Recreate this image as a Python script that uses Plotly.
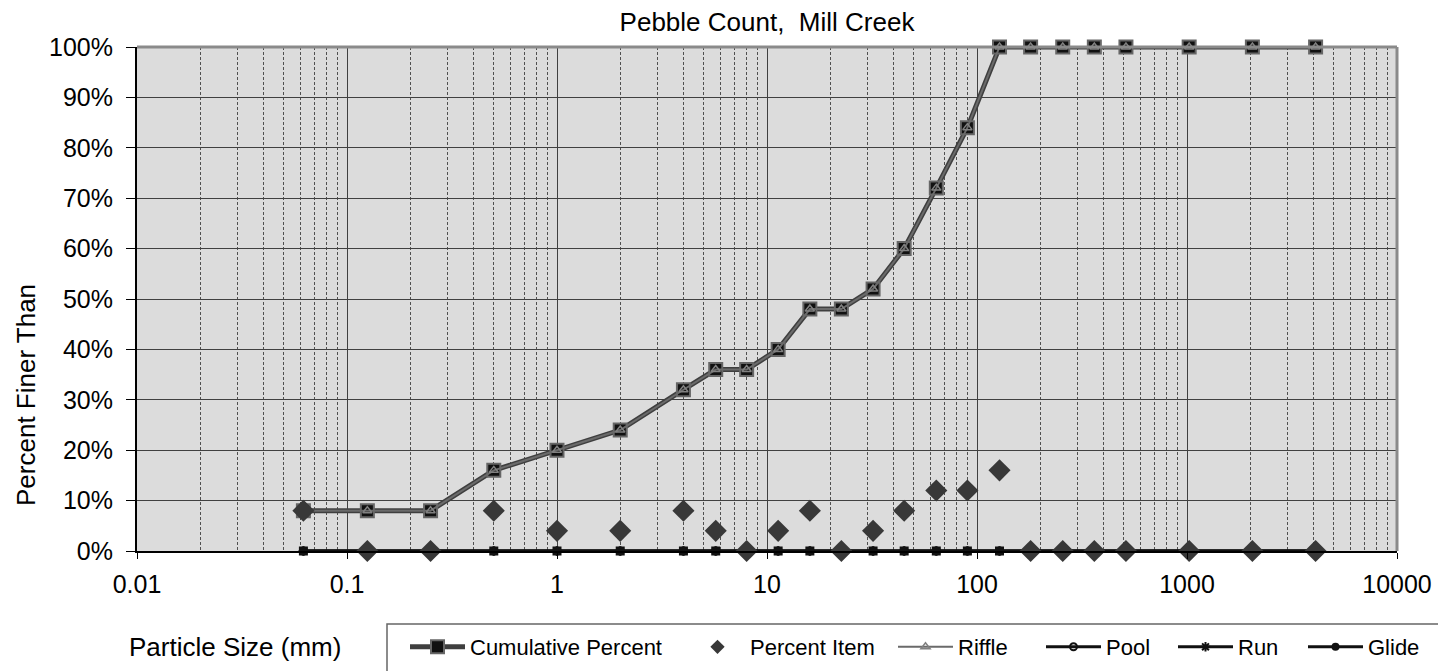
import plotly.graph_objects as go

# ---- data ----
particle_size_mm = [0.062, 0.125, 0.25, 0.5, 1, 2, 4, 5.7, 8, 11.3, 16, 22.6, 32, 45,
                    64, 90, 128, 180, 256, 362, 512, 1024, 2048, 4096]
cumulative_percent = [8, 8, 8, 16, 20, 24, 32, 36, 36, 40, 48, 48, 52, 60,
                      72, 84, 100, 100, 100, 100, 100, 100, 100, 100]
percent_item = [8, 0, 0, 8, 4, 4, 8, 4, 0, 4, 8, 0, 4, 8,
                12, 12, 16, 0, 0, 0, 0, 0, 0, 0]
riffle = cumulative_percent
pool = [0] * len(particle_size_mm)
run = [0] * len(particle_size_mm)
glide = [0] * len(particle_size_mm)

x_tick_vals = [0.01, 0.1, 1, 10, 100, 1000, 10000]
x_tick_text = ["0.01", "0.1", "1", "10", "100", "1000", "10000"]
y_tick_vals = [0, 10, 20, 30, 40, 50, 60, 70, 80, 90, 100]
y_tick_text = ["0%", "10%", "20%", "30%", "40%", "50%", "60%", "70%", "80%", "90%", "100%"]

FONT = "Liberation Sans, Arial, sans-serif"
W, H = 1438, 671
L, R, T, B = 137, 41, 47, 120
PW, PH = W - L - R, H - T - B


def px_x(p):
    return (p - L) / PW


def px_y(p):
    return (H - B - p) / PH


minor_vals = [m * 10 ** e for e in range(-2, 4) for m in range(2, 10)]

fig = go.Figure()

fig.add_trace(go.Scatter(x=particle_size_mm, y=pool, name="Pool", mode="lines+markers",
                         line=dict(color="#111111", width=3),
                         marker=dict(symbol="circle-open", size=7, color="#111111", line=dict(width=2)),
                         cliponaxis=False, legend="legend4"))
fig.add_trace(go.Scatter(x=particle_size_mm, y=run, name="Run", mode="lines+markers",
                         line=dict(color="#111111", width=3),
                         marker=dict(symbol="asterisk-open", size=8, color="#111111", line=dict(width=2, color="#111111")),
                         cliponaxis=False, legend="legend5"))
fig.add_trace(go.Scatter(x=particle_size_mm, y=glide, name="Glide", mode="lines+markers",
                         line=dict(color="#111111", width=3),
                         marker=dict(symbol="square", size=9, color="#111111"),
                         cliponaxis=False, legend="legend6", showlegend=False))
fig.add_trace(go.Scatter(x=[None], y=[None], name="Glide", mode="lines+markers",
                         line=dict(color="#111111", width=3),
                         marker=dict(symbol="circle", size=8, color="#111111"),
                         legend="legend6"))
fig.add_trace(go.Scatter(x=particle_size_mm, y=cumulative_percent, name="Cumulative Percent",
                         mode="lines+markers",
                         line=dict(color="#3f3f3f", width=5),
                         marker=dict(symbol="square", size=13, color="#111111", line=dict(color="#666666", width=2)),
                         cliponaxis=False, legend="legend"))
fig.add_trace(go.Scatter(x=particle_size_mm, y=riffle, name="Riffle", mode="lines+markers",
                         line=dict(color="#6a6a6a", width=2),
                         marker=dict(symbol="triangle-up-open", size=8, color="#808080", line=dict(width=1.5)),
                         cliponaxis=False, legend="legend3"))
fig.add_trace(go.Scatter(x=particle_size_mm, y=percent_item, name="Percent Item", mode="markers",
                         marker=dict(symbol="diamond", size=17, color="#383838"),
                         cliponaxis=False, legend="legend2", showlegend=False))
fig.add_trace(go.Scatter(x=[None], y=[None], name="Percent Item", mode="markers",
                         marker=dict(symbol="diamond", size=11, color="#383838"),
                         legend="legend2"))

legend_font = dict(family=FONT, size=22, color="black")
legend_y = px_y(647)


def leg(origin_px):
    return dict(x=px_x(origin_px), y=legend_y, xanchor="left", yanchor="middle",
                orientation="h", bgcolor="rgba(0,0,0,0)", borderwidth=0,
                font=legend_font, itemwidth=55, itemclick=False, itemdoubleclick=False)


fig.update_layout(
    width=W, height=H,
    margin=dict(l=L, r=R, t=T, b=B, autoexpand=False),
    paper_bgcolor="white",
    plot_bgcolor="#dcdcdc",
    font=dict(family=FONT, size=25, color="black"),
    title=dict(text="Pebble Count,  Mill Creek", x=0.5, xref="paper", y=1 - 22 / H,
               yanchor="middle", xanchor="center", font=dict(family=FONT, size=26, color="black")),
    legend=leg(405),
    legend2=leg(685),
    legend3=leg(893),
    legend4=leg(1041),
    legend5=leg(1173),
    legend6=leg(1303),
    xaxis=dict(
        type="log", range=[-2, 4], automargin=False,
        tickmode="array", tickvals=x_tick_vals, ticktext=x_tick_text,
        ticks="outside", ticklen=6, tickwidth=1, tickcolor="black",
        showline=True, linecolor="black", linewidth=2,
        showgrid=True, gridcolor="#404040", gridwidth=1,
        ticklabelstandoff=4,
        zeroline=False,
        minor=dict(tickmode="array", tickvals=minor_vals, showgrid=True,
                   gridcolor="#505050", gridwidth=1, griddash="3px,2px", ticks=""),
        tickfont=dict(family=FONT, size=25, color="black"),
    ),
    yaxis=dict(
        range=[0, 100], automargin=False,
        tickmode="array", tickvals=y_tick_vals, ticktext=y_tick_text,
        ticks="outside", ticklen=9, tickwidth=1, tickcolor="black",
        showline=True, linecolor="black", linewidth=2,
        showgrid=True, gridcolor="#404040", gridwidth=1,
        ticklabelstandoff=8, zeroline=False,
        tickfont=dict(family=FONT, size=25, color="black"),
    ),
    showlegend=True,
)

# plot frame (top/right) and legend box
fig.add_shape(type="line", xref="paper", yref="paper", x0=0, x1=1, y0=1, y1=1,
              line=dict(color="#8a8a8a", width=3), layer="above")
fig.add_shape(type="line", xref="paper", yref="paper", x0=1, x1=1, y0=0, y1=1,
              line=dict(color="#8a8a8a", width=3), layer="above")
fig.add_shape(type="rect", xref="paper", yref="paper",
              x0=px_x(387), x1=px_x(1450), y0=px_y(624), y1=px_y(690),
              line=dict(color="#666666", width=1.5), fillcolor="rgba(0,0,0,0)")

fig.add_annotation(text="Percent Finer Than", textangle=-90, xref="paper", yref="paper",
                   x=px_x(26), y=px_y(395), xanchor="center", yanchor="middle",
                   showarrow=False, font=dict(family=FONT, size=26, color="black"))
fig.add_annotation(text="Particle Size (mm)", xref="paper", yref="paper",
                   x=px_x(127), y=px_y(647), xanchor="left", yanchor="middle",
                   showarrow=False, font=dict(family=FONT, size=26, color="black"))

fig.write_html("out.html", config={"displayModeBar": False},
               post_script="document.body.style.margin='0';document.body.style.padding='0';")
